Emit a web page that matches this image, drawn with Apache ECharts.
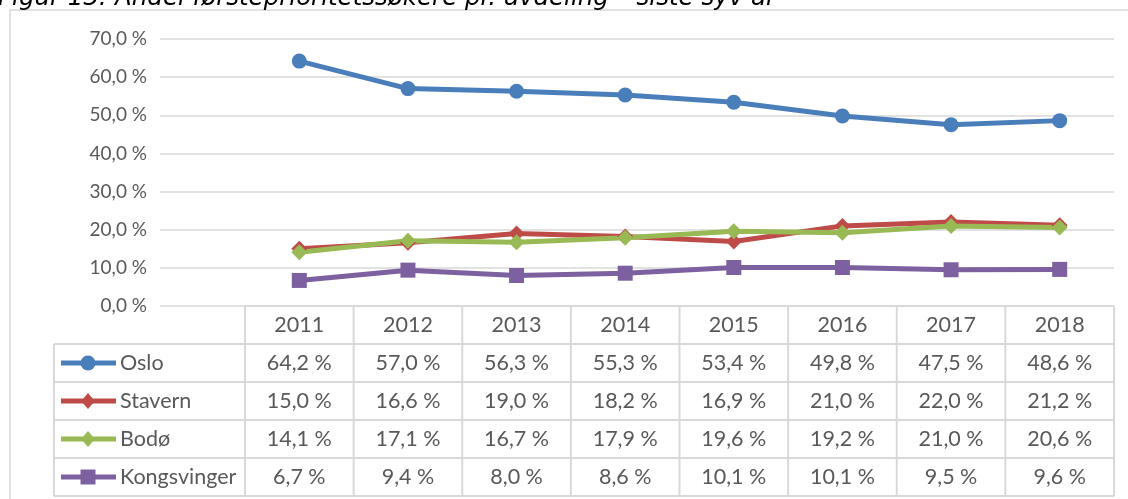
<!DOCTYPE html>
<html>
<head>
<meta charset="utf-8">
<script src="https://cdn.jsdelivr.net/npm/echarts@6/dist/echarts.min.js"></script>
<style>
  html, body { margin: 0; padding: 0; background: #fff; }
  #chart { width: 1128px; height: 499px; }
</style>
</head>
<body>
<div id="chart"></div>
<script>
// data
const years = ['2011', '2012', '2013', '2014', '2015', '2016', '2017', '2018'];
const oslo = [64.2, 57.0, 56.3, 55.3, 53.4, 49.8, 47.5, 48.6];
const stavern = [15.0, 16.6, 19.0, 18.2, 16.9, 21.0, 22.0, 21.2];
const bodo = [14.1, 17.1, 16.7, 17.9, 19.6, 19.2, 21.0, 20.6];
const kongsvinger = [6.7, 9.4, 8.0, 8.6, 10.1, 10.1, 9.5, 9.6];
const names = ['Oslo', 'Stavern', 'Bodø', 'Kongsvinger'];
const titleText = 'Figur 13: Andel førsteprioritetssøkere pr. avdeling – siste syv år';

const fmt = v => v.toFixed(1).replace('.', ',') + ' %';
const gray = '#595959';
const border = '#D9D9D9';
const font = 'Lato';

const rows = [
  { name: names[0], data: oslo, color: '#4A7EBB', symbol: 'circle', size: 15 },
  { name: names[1], data: stavern, color: '#BE4B48', symbol: 'diamond', size: 16 },
  { name: names[2], data: bodo, color: '#98B954', symbol: 'diamond', size: 16 },
  { name: names[3], data: kongsvinger, color: '#7D60A0', symbol: 'rect', size: 15 }
];

const chart = echarts.init(document.getElementById('chart'));
chart.setOption({
  animation: false,
  grid: [
    { left: 160, right: 14, top: 39, bottom: 193 },
    { left: 245, right: 14, top: 39, bottom: 193 }
  ],
  xAxis: [
    { gridIndex: 0, type: 'category', data: years, show: false },
    {
      gridIndex: 1, type: 'category', data: years, boundaryGap: true,
      axisLine: { show: false }, axisTick: { show: false }, axisLabel: { show: false }
    }
  ],
  yAxis: [
    {
      gridIndex: 0, type: 'value', min: 0, max: 70, interval: 10,
      axisLine: { show: false }, axisTick: { show: false },
      splitLine: { lineStyle: { color: border, width: 1.5 } },
      axisLabel: { formatter: fmt, color: gray, fontFamily: font, fontSize: 19, margin: 13 }
    },
    { gridIndex: 1, type: 'value', min: 0, max: 70, interval: 10, show: false }
  ],
  series: rows.map(r => ({
    name: r.name,
    type: 'line',
    xAxisIndex: 1,
    yAxisIndex: 1,
    data: r.data,
    symbol: r.symbol,
    symbolSize: r.size,
    lineStyle: { color: r.color, width: 5 },
    itemStyle: { color: r.color },
    z: 3
  }))
});

// data table under the plot, aligned to the category axis
const c0 = chart.convertToPixel({ xAxisIndex: 1 }, years[0]);
const step = chart.convertToPixel({ xAxisIndex: 1 }, years[1]) - c0;
const xStart = c0 - step / 2;
const xEnd = xStart + step * years.length;
const yTop = chart.convertToPixel({ yAxisIndex: 1 }, 0);
const rowH = 38;
const tableLeft = 54;
const yBottom = yTop + rowH * (rows.length + 1);
const lineStyle = { stroke: border, lineWidth: 2 };
const textStyle = { fill: gray, font: '21.5px ' + font, align: 'center', verticalAlign: 'middle' };

const g = [];
g.push({ type: 'rect', shape: { x: 10, y: 10, width: 1140, height: 520 },
  style: { fill: null, stroke: border, lineWidth: 1.5 }, z: -1 });
g.push({ type: 'text', x: -2, y: 11,
  style: { text: titleText, fill: '#000', font: 'italic 24.5px "DejaVu Sans"', verticalAlign: 'bottom' } });

// horizontal lines
g.push({ type: 'line', shape: { x1: xStart, y1: yTop, x2: xEnd, y2: yTop }, style: lineStyle });
for (let i = 1; i <= rows.length + 1; i++) {
  const y = yTop + rowH * i;
  g.push({ type: 'line', shape: { x1: tableLeft, y1: y, x2: xEnd, y2: y }, style: lineStyle });
}
// vertical lines
g.push({ type: 'line', shape: { x1: tableLeft, y1: yTop + rowH, x2: tableLeft, y2: yBottom }, style: lineStyle });
for (let j = 0; j <= years.length; j++) {
  const x = xStart + step * j;
  g.push({ type: 'line', shape: { x1: x, y1: yTop, x2: x, y2: yBottom }, style: lineStyle });
}
// header
years.forEach((yr, j) => {
  g.push({ type: 'text', x: xStart + step * (j + 0.5), y: yTop + rowH / 2, style: Object.assign({ text: yr }, textStyle) });
});
// rows
rows.forEach((r, i) => {
  const cy = yTop + rowH * (i + 1.5);
  g.push({ type: 'line', shape: { x1: 61, y1: cy, x2: 116, y2: cy }, style: { stroke: r.color, lineWidth: 5 } });
  const mx = 88, s = r.size / 2;
  if (r.symbol === 'circle') {
    g.push({ type: 'circle', shape: { cx: mx, cy: cy, r: s }, style: { fill: r.color } });
  } else if (r.symbol === 'diamond') {
    g.push({ type: 'polygon', shape: { points: [[mx, cy - s], [mx + s * 0.85, cy], [mx, cy + s], [mx - s * 0.85, cy]] }, style: { fill: r.color } });
  } else {
    g.push({ type: 'rect', shape: { x: mx - s, y: cy - s, width: s * 2, height: s * 2 }, style: { fill: r.color } });
  }
  g.push({ type: 'text', x: 120, y: cy, style: Object.assign({}, textStyle, { text: r.name, align: 'left' }) });
  r.data.forEach((v, j) => {
    g.push({ type: 'text', x: xStart + step * (j + 0.5), y: cy, style: Object.assign({ text: fmt(v) }, textStyle) });
  });
});

chart.setOption({ graphic: g });
</script>
</body>
</html>
